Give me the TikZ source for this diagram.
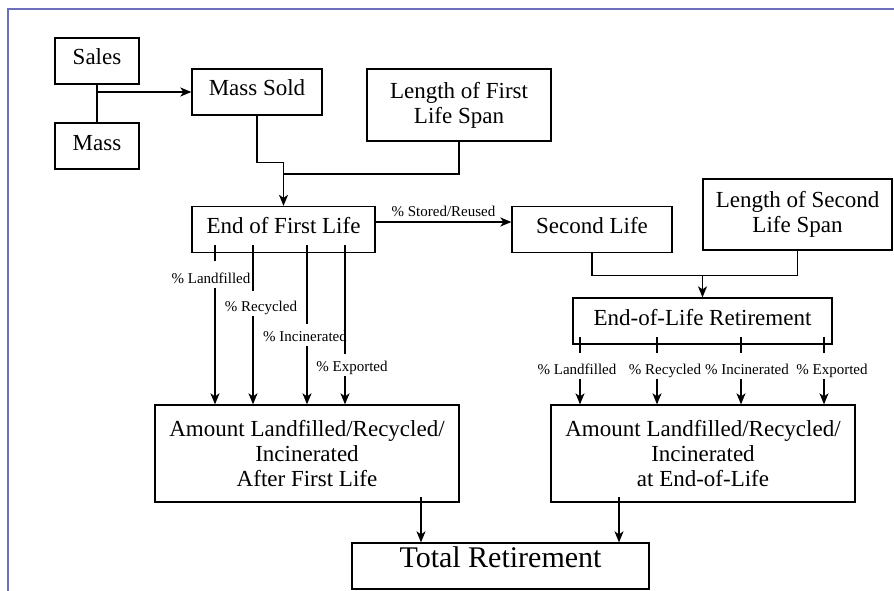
\documentclass[tikz,border=0pt]{standalone}
\usepackage{fontspec}
\setmainfont{Liberation Serif}
\usetikzlibrary{calc}
\usetikzlibrary{arrows.meta}

\definecolor{framecol}{RGB}{110,110,190}

\begin{document}
\begin{tikzpicture}[x=1pt,y=-1pt,line width=1.3pt,>={Stealth[length=11pt,width=9pt,inset=3pt]},
  box/.style={draw,inner sep=0pt,minimum height=46pt,text height=16pt,text depth=8pt,font=\fontsize{23}{25}\selectfont},
  tallbox/.style={draw,inner sep=0pt,align=center,font=\fontsize{23}{25}\selectfont},
  pct/.style={inner sep=1pt,text height=10pt,text depth=3pt,font=\fontsize{15}{17}\selectfont}]
  \useasboundingbox (0,0) rectangle (894,591);
  \draw [framecol,line width=2pt] (8,591) -- (8,9) -- (894,9);

  \node [box,minimum width=84pt] (sales) at (97,61) {Sales};
  \node [box,minimum width=84pt] (mass) at (97,146) {Mass};
  \node [box,minimum width=130pt] (masssold) at (257,92) {Mass Sold};
  \node [tallbox,minimum width=184pt,minimum height=72pt] (lenfirst) at (459,105) {Length of First\\Life Span};
  \node [box,minimum width=183pt] (endfirst) at (283.5,229.5) {End of First Life};
  \node [box,minimum width=160pt] (second) at (592,229.5) {Second Life};
  \node [tallbox,minimum width=189pt,minimum height=71pt] (lensecond) at (797.5,214.5) {Length of Second\\Life Span};
  \node [box,minimum width=259pt] (eol) at (702.5,321) {End-of-Life Retirement};
  \node [tallbox,minimum width=304pt,minimum height=97pt] (amtfirst) at (307,453.5) {Amount Landfilled/Recycled/\\Incinerated\\After First Life};
  \node [tallbox,minimum width=304pt,minimum height=97pt] (amteol) at (703,453.5) {Amount Landfilled/Recycled/\\Incinerated\\at End-of-Life};
  \node [box,minimum width=297pt,text height=18pt,text depth=16pt,font=\fontsize{30}{32}\selectfont] (total) at (500.5,566) {Total Retirement};

  \draw (sales) -- (mass);
  \draw [->] (sales.south |- masssold.west) -- (masssold.west);

  \coordinate (jfirst) at ($ (endfirst.north)+(0,-32) $);
  \draw (masssold.south) -- ++(0,47) -| (jfirst);
  \draw (lenfirst.south) |- (jfirst);
  \draw [->] (jfirst) -- (endfirst.north);

  \draw [->] ([yshift=7.5pt]endfirst.east) -- node [pct,above=1pt] (stored) {\% Stored/Reused} ([yshift=7.5pt]second.west);

  \coordinate (jsecond) at ($ (eol.north)+(0,-22) $);
  \draw (second.south) |- (jsecond);
  \draw (lensecond.south) |- (jsecond);
  \draw [->] (jsecond) -- (eol.north);

  % shares after first life
  \coordinate (lf1) at (215,245);
  \coordinate (lf2) at (253,245);
  \coordinate (lf3) at (307,245);
  \coordinate (lf4) at (345,245);
  \node [pct] (lfland) at (211,280) {\% Landfilled};
  \node [pct] (lfrec) at (261,308) {\% Recycled};
  \node [pct] (lfinc) at (305,338) {\% Incinerated};
  \node [pct] (lfexp) at (352,368) {\% Exported};
  \draw (lf1) -- ++(0,16);
  \draw (lf2) -- ++(0,46);
  \draw (lf3) -- ++(0,79);
  \draw (lf4) -- ++(0,109);
  \draw [->] (lf1 |- lfland.south) -- (lf1 |- amtfirst.north);
  \draw [->] (lf2 |- lfrec.south) -- (lf2 |- amtfirst.north);
  \draw [->] (lf3 |- lfinc.south) -- (lf3 |- amtfirst.north);
  \draw [->] (lf4 |- lfexp.south) -- (lf4 |- amtfirst.north);

  % shares at end of life
  \coordinate (re1) at (580,337);
  \coordinate (re2) at (657,337);
  \coordinate (re3) at (741,337);
  \coordinate (re4) at (824,337);
  \node [pct] (reland) at (577,371) {\% Landfilled};
  \node [pct] (rerec) at (665,371) {\% Recycled};
  \node [pct] (reinc) at (747,371) {\% Incinerated};
  \node [pct] (reexp) at (832,371) {\% Exported};
  \draw (re1) -- ++(0,16);
  \draw (re2) -- ++(0,16);
  \draw (re3) -- ++(0,16);
  \draw (re4) -- ++(0,16);
  \draw [->] (re1 |- reland.south) -- (re1 |- amteol.north);
  \draw [->] (re2 |- rerec.south) -- (re2 |- amteol.north);
  \draw [->] (re3 |- reinc.south) -- (re3 |- amteol.north);
  \draw [->] (re4 |- reexp.south) -- (re4 |- amteol.north);

  \coordinate (aout1) at (421,497);
  \coordinate (aout2) at (619,497);
  \draw [->] (aout1) -- (aout1 |- total.north);
  \draw [->] (aout2) -- (aout2 |- total.north);
\end{tikzpicture}
\end{document}
